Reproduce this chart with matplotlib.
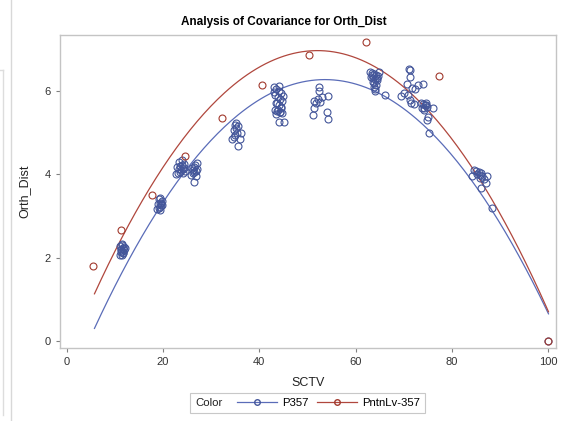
import numpy as np
import matplotlib
matplotlib.use("Agg")
import matplotlib.pyplot as plt
from matplotlib.lines import Line2D
from matplotlib.patches import Rectangle

plt.rcParams['font.family'] = ['Liberation Sans', 'DejaVu Sans']

# ---- data ----
p357_x = [
    11.2, 11.5, 11.8, 11.3, 11.6, 12.0, 11.4, 11.7, 11.9, 11.2, 11.5, 11.8, 12.1, 11.6, 11.4,
    18.8, 19.1, 19.4, 19.7, 19.0, 19.3, 19.6, 19.9, 19.2, 19.5, 19.8, 19.4,
    22.8, 23.2, 23.5, 23.8, 24.1, 24.4, 23.0, 23.6, 24.0, 24.3, 23.3, 23.9, 24.6, 23.4, 24.2,
    25.9, 26.2, 26.5, 26.8, 27.1, 26.0, 26.4, 26.7, 27.0, 26.3, 26.9, 26.4,
    34.3, 34.7, 35.0, 35.3, 34.8, 35.1, 35.5, 34.9, 35.2, 36.2, 36.0, 35.5,
    43.0, 43.5, 44.0, 44.5, 43.3, 43.8, 44.3, 44.8, 43.6, 44.1, 44.6, 43.2, 43.7, 44.2, 44.7,
    43.4, 43.9, 44.4, 43.1, 44.0, 44.9, 43.5, 44.3, 44.1, 45.2,
    52.4, 52.4, 52.2, 51.8, 51.4, 51.2, 53.0, 54.2, 54.0, 54.3, 51.4, 52.6,
    63.0, 63.4, 63.8, 64.2, 64.6, 63.2, 63.6, 64.0, 64.4, 63.5, 63.9, 64.3, 63.7, 64.1, 63.3,
    64.8, 64.5, 64.0, 66.0,
    71.2, 71.2, 70.6, 71.6, 72.9, 73.9, 70.0, 70.8, 71.2, 72.0, 72.4, 69.4, 71.0, 71.4,
    73.6, 74.0, 74.4, 74.8, 73.8, 74.2, 74.6, 74.1, 74.5, 76.1, 75.0, 74.8, 75.2,
    84.5, 85.0, 85.5, 86.0, 85.2, 85.7, 86.3, 85.8, 86.6, 87.2, 87.0, 86.0, 84.2, 88.2,
    100.0,
]
p357_y = [
    2.05, 2.07, 2.10, 2.13, 2.15, 2.18, 2.20, 2.22, 2.25, 2.28, 2.30, 2.12, 2.23, 2.32, 2.17,
    3.17, 3.20, 3.22, 3.25, 3.28, 3.30, 3.32, 3.35, 3.40, 3.43, 3.27, 3.15,
    4.00, 4.03, 4.06, 4.10, 4.12, 4.15, 4.18, 4.20, 4.22, 4.25, 4.30, 4.35, 4.08, 4.13, 4.02,
    3.98, 4.02, 4.05, 4.08, 4.12, 4.15, 4.18, 4.22, 4.28, 4.10, 3.95, 3.82,
    4.85, 4.90, 4.95, 5.00, 5.05, 5.10, 5.15, 5.18, 5.22, 5.00, 4.85, 4.68,
    6.10, 6.05, 6.00, 5.95, 5.90, 5.85, 5.80, 5.75, 5.70, 5.65, 5.60, 5.55, 5.52, 5.50, 5.48,
    5.45, 5.55, 5.62, 5.98, 6.12, 5.88, 5.72, 5.50, 5.25, 5.25,
    6.10, 6.00, 5.80, 5.70, 5.60, 5.43, 5.85, 5.88, 5.50, 5.33, 5.75, 5.73,
    6.45, 6.42, 6.40, 6.38, 6.35, 6.33, 6.30, 6.28, 6.25, 6.22, 6.20, 6.15, 6.10, 6.05, 6.37,
    6.45, 6.30, 6.00, 5.90,
    6.50, 6.34, 6.17, 6.07, 6.14, 6.17, 5.95, 5.90, 5.78, 5.69, 6.05, 5.88, 6.52, 5.72,
    5.70, 5.68, 5.65, 5.62, 5.60, 5.58, 5.66, 5.55, 5.72, 5.60, 5.37, 5.30, 5.00,
    4.10, 4.08, 4.05, 4.02, 4.00, 3.98, 3.95, 3.92, 3.88, 3.96, 3.78, 3.66, 3.96, 3.19,
    0.0,
]
pntn_x = [5.5, 11.4, 17.7, 24.6, 32.2, 40.6, 50.4, 62.1, 77.3, 100.0]
pntn_y = [1.80, 2.66, 3.51, 4.43, 5.34, 6.15, 6.85, 7.18, 6.36, 0.0]

# fitted quadratic values read at three SCTV positions
fit_x = [5.8, 53.5, 100.0]
fit_p357 = [0.30, 6.27, 0.65]
fit_pntn = [1.13, 6.96, 0.70]

xticks = [0, 20, 40, 60, 80, 100]
yticks = [0, 2, 4, 6]
series_names = ['P357', 'PntnLv-357']
legend_title = 'Color'

blue = '#44569A'
red = '#A23A2E'
blue_line = '#5A6CB8'
red_line = '#B0473D'

fig = plt.figure(figsize=(5.67, 4.21), dpi=100)
ax = fig.add_axes([60/567, 1-348/421, (556-60)/567, (348-35)/421])

xs = np.linspace(fit_x[0], fit_x[-1], 200)
cb = np.polyfit(fit_x, fit_p357, 2)
cr = np.polyfit(fit_x, fit_pntn, 2)
ax.plot(xs, np.polyval(cb, xs), color=blue_line, lw=0.9, zorder=2)
ax.plot(xs, np.polyval(cr, xs), color=red_line, lw=0.9, zorder=2)

ax.plot(p357_x, p357_y, ls='none', marker='o', ms=5.0, mfc='none', mec=blue, mew=0.8, zorder=3)
ax.plot(pntn_x, pntn_y, ls='none', marker='o', ms=5.0, mfc='none', mec=red, mew=0.8, zorder=3)

ax.set_xlim(-1.35, 101.56)
ax.set_ylim(-0.17, 7.34)
ax.set_xticks(xticks)
ax.set_yticks(yticks)
for s in ax.spines.values():
    s.set_color('#C4C4C4')
    s.set_linewidth(1.0)
ax.tick_params(colors='#808080', labelcolor='#333333', labelsize=8, length=3, width=0.8)

ax.set_xlabel('SCTV', fontsize=9, color='#222222', labelpad=7)
ax.set_ylabel('Orth_Dist', fontsize=9, color='#222222', labelpad=10)
fig.text(284/567, 1-22/421, 'Analysis of Covariance for Orth_Dist', fontsize=8.5,
         fontweight='bold', ha='center', va='center')

# legend: frame box, header text, and the two series entries
ly = 1 - 403/421
fig.add_artist(Rectangle((190/567, 1-413/421), (425-190)/567, 20/421, transform=fig.transFigure,
                         fill=False, edgecolor='#C8C8C8', lw=0.8))
fig.text(195/567, ly, legend_title, fontsize=8.2, color='#222222', ha='left', va='center')
handles = [
    Line2D([], [], color=blue_line, lw=0.9, marker='o', ms=4, mfc='none', mec=blue, label=series_names[0]),
    Line2D([], [], color=red_line, lw=0.9, marker='o', ms=4, mfc='none', mec=red, label=series_names[1]),
]
leg = fig.legend(handles=handles, loc='center left', bbox_to_anchor=(237/567, ly), ncol=2,
                 frameon=False, fontsize=8.2, handlelength=3.5, handletextpad=0.5,
                 columnspacing=0.7, borderpad=0.0, borderaxespad=0.0)

# screen artifacts on left
fig.add_artist(Line2D([11/567, 11/567], [0, 1], color='#D8D8D8', lw=1.0))
fig.add_artist(Line2D([2.5/567, 2.5/567], [1-415/421, 1-70/421], color='#DDDDDD', lw=1.0))
fig.add_artist(Line2D([0, 2.5/567], [1-70/421, 1-70/421], color='#DDDDDD', lw=1.0))

fig.savefig('out.png', dpi=100)
